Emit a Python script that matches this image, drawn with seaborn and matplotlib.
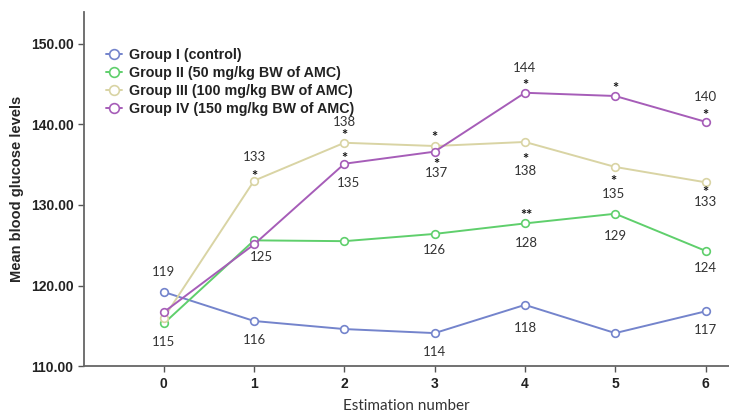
import matplotlib
matplotlib.use("Agg")
import matplotlib.pyplot as plt
from matplotlib.lines import Line2D
import seaborn as sns
import pandas as pd

# data
estimation = [0, 1, 2, 3, 4, 5, 6]
groups = ["Group I (control)", "Group II (50 mg/kg BW of AMC)",
          "Group III (100 mg/kg BW of AMC)", "Group IV (150 mg/kg BW of AMC)"]
group1 = [119.2, 115.6, 114.6, 114.1, 117.6, 114.1, 116.8]
group2 = [115.3, 125.6, 125.5, 126.4, 127.7, 128.9, 124.3]
group3 = [116.0, 133.0, 137.7, 137.3, 137.8, 134.7, 132.8]
group4 = [116.7, 125.1, 135.1, 136.6, 143.9, 143.5, 140.3]
colors = ["#7484cc", "#5fcf6c", "#d9d4a4", "#a65db8"]

# value labels (text, x, y) and significance stars (text, x, y)
value_labels = [
    ("119", 0, 121.7), ("115", 0, 113.0), ("116", 1, 113.2), ("114", 3, 111.7),
    ("118", 4, 114.7), ("117", 6, 114.5),
    ("125", 1.08, 123.5), ("126", 3, 124.4), ("128", 4.02, 125.3), ("129", 5, 126.1),
    ("124", 6, 122.2),
    ("133", 1, 135.9), ("138", 2, 140.3), ("137", 3.02, 134.0), ("138", 4, 134.2),
    ("135", 4.98, 131.4), ("133", 6, 130.3),
    ("135", 2.05, 132.7), ("144", 4, 147.0), ("140", 6, 143.4),
]
stars = [
    ("*", 1, 134.1), ("*", 2, 139.2), ("*", 2, 136.3), ("*", 3, 138.9), ("*", 3.02, 135.6),
    ("*", 4, 145.4), ("*", 4, 136.2), ("*", 5, 145.0), ("*", 4.98, 133.5),
    ("*", 6, 141.6), ("*", 6, 132.1), ("**", 4.02, 129.2),
]

rows = []
for name, vals in zip(groups, [group1, group2, group3, group4]):
    for x, v in zip(estimation, vals):
        rows.append({"Estimation number": x, "glucose": v, "group": name})
df = pd.DataFrame(rows)

sns.set_style("ticks")
plt.rcParams["font.family"] = ["Liberation Sans", "DejaVu Sans"]

fig = plt.figure(figsize=(7.29, 4.18), dpi=100)
ax = fig.add_axes([0.115, 0.124, 0.885, 0.847])

sns.lineplot(data=df, x="Estimation number", y="glucose", hue="group",
             hue_order=groups, palette=colors, marker="o", markersize=5.5,
             markerfacecolor="white", markeredgewidth=1.2, linewidth=1.4,
             legend=False, ax=ax)
for line, c in zip(ax.lines, colors):
    line.set_markeredgecolor(c)

for t, x, y in value_labels:
    ax.text(x, y, t, ha="center", va="center", fontsize=9.5, color="#333333",
            family=["Lato", "DejaVu Sans"])
# stars: anchor on baseline so the small glyph box does not swallow the numbers
for t, x, y in stars:
    ax.text(x, y - 1.1, t, ha="center", va="baseline", fontsize=10.5, color="#111111",
            fontweight="bold", family=["Lato", "DejaVu Sans"])

ax.set_xlim(-0.886, 6.26)
ax.set_ylim(110, 153.9)
ax.set_xticks(estimation)
ax.set_yticks([110, 120, 130, 140, 150])
ax.set_yticklabels(["110.00", "120.00", "130.00", "140.00", "150.00"])
ax.tick_params(labelsize=10, length=4, width=1, color="#555555")
for lab in ax.get_xticklabels() + ax.get_yticklabels():
    lab.set_fontweight("bold")
    lab.set_color("#222222")
sns.despine(ax=ax)
for s in ["left", "bottom"]:
    ax.spines[s].set_color("#666666")
    ax.spines[s].set_linewidth(1.3)

ax.set_ylabel("Mean blood glucose levels", fontsize=10.5, fontweight="bold", labelpad=5)
ax.set_xlabel("Estimation number", fontsize=11, color="#333333", labelpad=6,
              family=["Lato", "DejaVu Sans"])

handles = [Line2D([0], [0], color=c, linewidth=1.4, marker="o", markersize=7,
                  markerfacecolor="white", markeredgecolor=c, markeredgewidth=1.2)
           for c in colors]
leg = ax.legend(handles, groups, loc="upper left", bbox_to_anchor=(0.034, 0.898),
                frameon=False, fontsize=10.3, handlelength=1.15, handletextpad=0.45,
                labelspacing=0.28, borderaxespad=0, borderpad=0)
for txt in leg.get_texts():
    txt.set_fontweight("bold")
    txt.set_color("#222222")

fig.savefig("out.png", dpi=100)
